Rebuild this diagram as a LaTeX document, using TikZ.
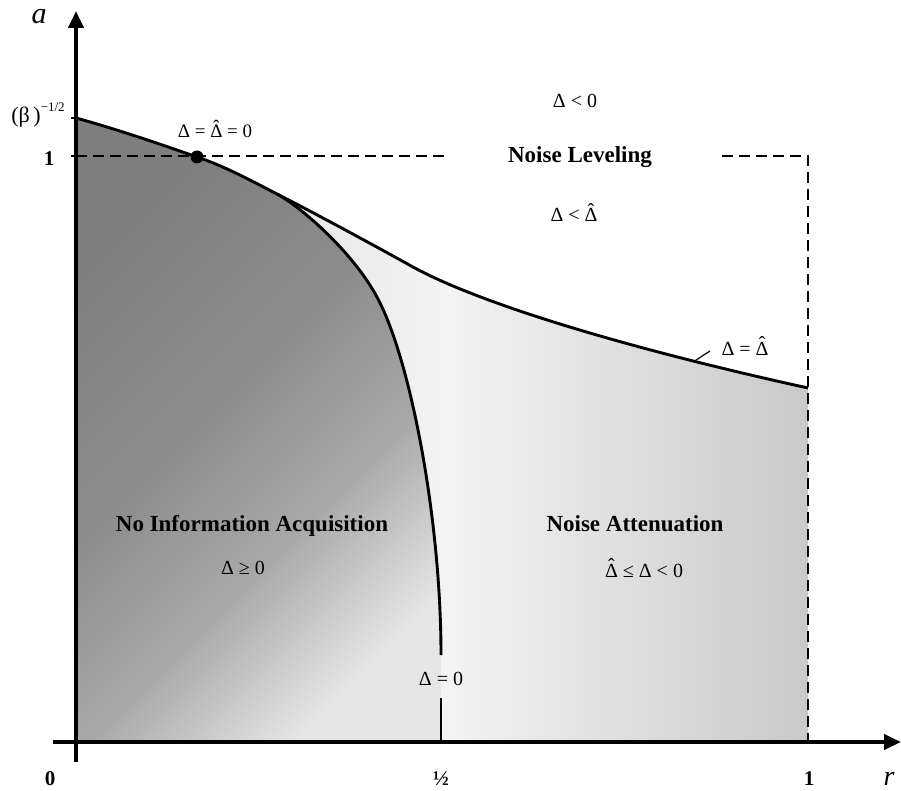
\documentclass[tikz,border=0pt]{standalone}
\usepackage{fontspec}
\setmainfont{Liberation Serif}
\usetikzlibrary{arrows.meta}
\definecolor{dkA}{HTML}{7E7E7E}
\definecolor{dkB}{HTML}{8C8C8C}
\definecolor{dkC}{HTML}{A8A8A8}
\definecolor{dkD}{HTML}{E6E6E6}
\definecolor{ltA}{HTML}{E6E6E6}
\definecolor{ltB}{HTML}{F3F3F3}
\definecolor{ltC}{HTML}{C9C9C9}
\pgfdeclarehorizontalshading{darkgrad}{100bp}{color(0bp)=(dkA); color(25bp)=(dkA); color(45bp)=(dkB); color(60bp)=(dkC); color(75bp)=(dkD); color(100bp)=(dkD)}
\pgfdeclarehorizontalshading{lightgrad}{100bp}{color(0bp)=(ltA); color(25bp)=(ltA); color(41bp)=(ltB); color(75bp)=(ltC); color(100bp)=(ltC)}
\newcommand{\hD}{{\setbox0\hbox{Δ}\rlap{\hbox to\wd0{\hss\raisebox{0.24em}{ˆ}\hss}}\box0}}
\begin{document}
\begin{tikzpicture}[x=1pt,y=-1pt,
  axisline/.style={line width=4pt,-{Triangle[length=17pt,width=15pt]}},
  curveline/.style={line width=2.9pt},
  dashline/.style={line width=2.7pt,dash pattern=on 11pt off 6pt},
  tickline/.style={line width=2pt},
  mlab/.style={font=\fontsize{20}{20}\selectfont,inner sep=0pt,anchor=base},
  slab/.style={font=\fontsize{19}{19}\selectfont,inner sep=0pt,anchor=base},
  blab/.style={font=\fontsize{23}{23}\selectfont\bfseries,inner sep=0pt,anchor=base},
  numlab/.style={font=\fontsize{21}{21}\selectfont\bfseries,inner sep=0pt,anchor=base},
  itlab/.style={font=\fontsize{30}{30}\selectfont\itshape,inner sep=0pt,anchor=base},
  dotnode/.style={circle,fill=black,inner sep=0pt,minimum size=13pt}]
\useasboundingbox (0,0) rectangle (901,791);
% key points
\coordinate (ytop) at (76,118);
\coordinate (dotp) at (197,157);
\coordinate (split) at (277,194);
\coordinate (bend) at (380,303);
\coordinate (mid) at (413,267);
\coordinate (rend) at (808,388);
\coordinate (zend) at (441,655);
\coordinate (zstart) at (441,698);
\coordinate (half) at (441,742);
\coordinate (one) at (808,742);
\coordinate (origin) at (76,742);
% dark region
\shade[shading=darkgrad,shading angle=-45]
  (origin) -- (ytop) .. controls (116,129) and (157,143) .. (dotp)
  .. controls (224,166) and (250,180) .. (split)
  .. controls (300,206) and (357,255) .. (bend)
  .. controls (411,365) and (441,520) .. (zend)
  -- (half) -- cycle;
% light region
\shade[shading=lightgrad]
  (split) .. controls (300,206) and (357,255) .. (bend)
  .. controls (411,365) and (441,520) .. (zend)
  -- (half) -- (one) -- (rend)
  .. controls (608,344) and (473,300) .. (mid)
  .. controls (377,247) and (322,217) .. (split) -- cycle;
% curves
\draw[curveline] (ytop) .. controls (116,129) and (157,143) .. (dotp)
  .. controls (224,166) and (250,180) .. (split)
  .. controls (322,217) and (377,247) .. (mid)
  .. controls (473,300) and (608,344) .. (rend);
\draw[curveline] (split) .. controls (300,206) and (357,255) .. (bend)
  .. controls (411,365) and (441,520) .. (zend);
\draw[curveline] (zstart) -- (half);
% dashed lines
\coordinate (dL) at (450,156);
\coordinate (dR) at (722,156);
\coordinate (cR) at (808,156);
\coordinate (cB) at (808,747);
\coordinate (y1) at (76,156);
\draw[dashline] (y1) -- (dL);
\draw[dashline] (dR) -- (cR) -- (cB);
% axes
\coordinate (ybot) at (76,762);
\coordinate (yarr) at (76,11);
\coordinate (xl) at (53,742);
\coordinate (xarr) at (901,742);
\draw[axisline] (ybot) -- (yarr);
\draw[axisline] (xl) -- (xarr);
% ticks
\coordinate (tb) at (71,118);
\coordinate (t1) at (71,156);
\draw[tickline] (tb) -- (ytop);
\draw[tickline] (t1) -- (y1);
% point
\node[dotnode] (pt) at (dotp) {};
% leader
\coordinate (ldA) at (693,362);
\coordinate (ldB) at (710,351);
\draw[line width=1.2pt] (ldA) -- (ldB);
% labels
\node[mlab] (dlt0) at (575,108) {Δ < 0};
\node[blab] (nlev) at (580,163) {Noise Leveling};
\node[mlab] (dlth) at (574,222) {Δ < \hD};
\node[mlab] (deqh) at (745,355) {Δ = \hD};
\node[slab] (deq0) at (215,138) {Δ = \hD{} = 0};
\node[blab] (nia) at (252,531) {No Information Acquisition};
\node[mlab] (dge) at (243,574) {Δ ≥ 0};
\node[blab] (natt) at (635,531) {Noise Attenuation};
\node[mlab] (dle) at (644,577) {\hD{} ≤ Δ < 0};
\node[mlab] (dz) at (441,685) {Δ = 0};
\node[itlab] (la) at (39,24) {a};
\node[font=\fontsize{22}{22}\selectfont,inner sep=0pt,anchor=base] (lbeta) at (38,123) {(β\,)\raisebox{0.5em}{\fontsize{13}{13}\selectfont −1/2}};
\node[numlab] (l1y) at (49,166) {1};
\node[numlab] (l0) at (50,785) {0};
\node[numlab] (lh) at (441,785) {½};
\node[numlab] (l1x) at (809,785) {1};
\node[itlab,font=\fontsize{28}{28}\selectfont\itshape] (lr) at (889,785) {r};
\end{tikzpicture}
\end{document}
